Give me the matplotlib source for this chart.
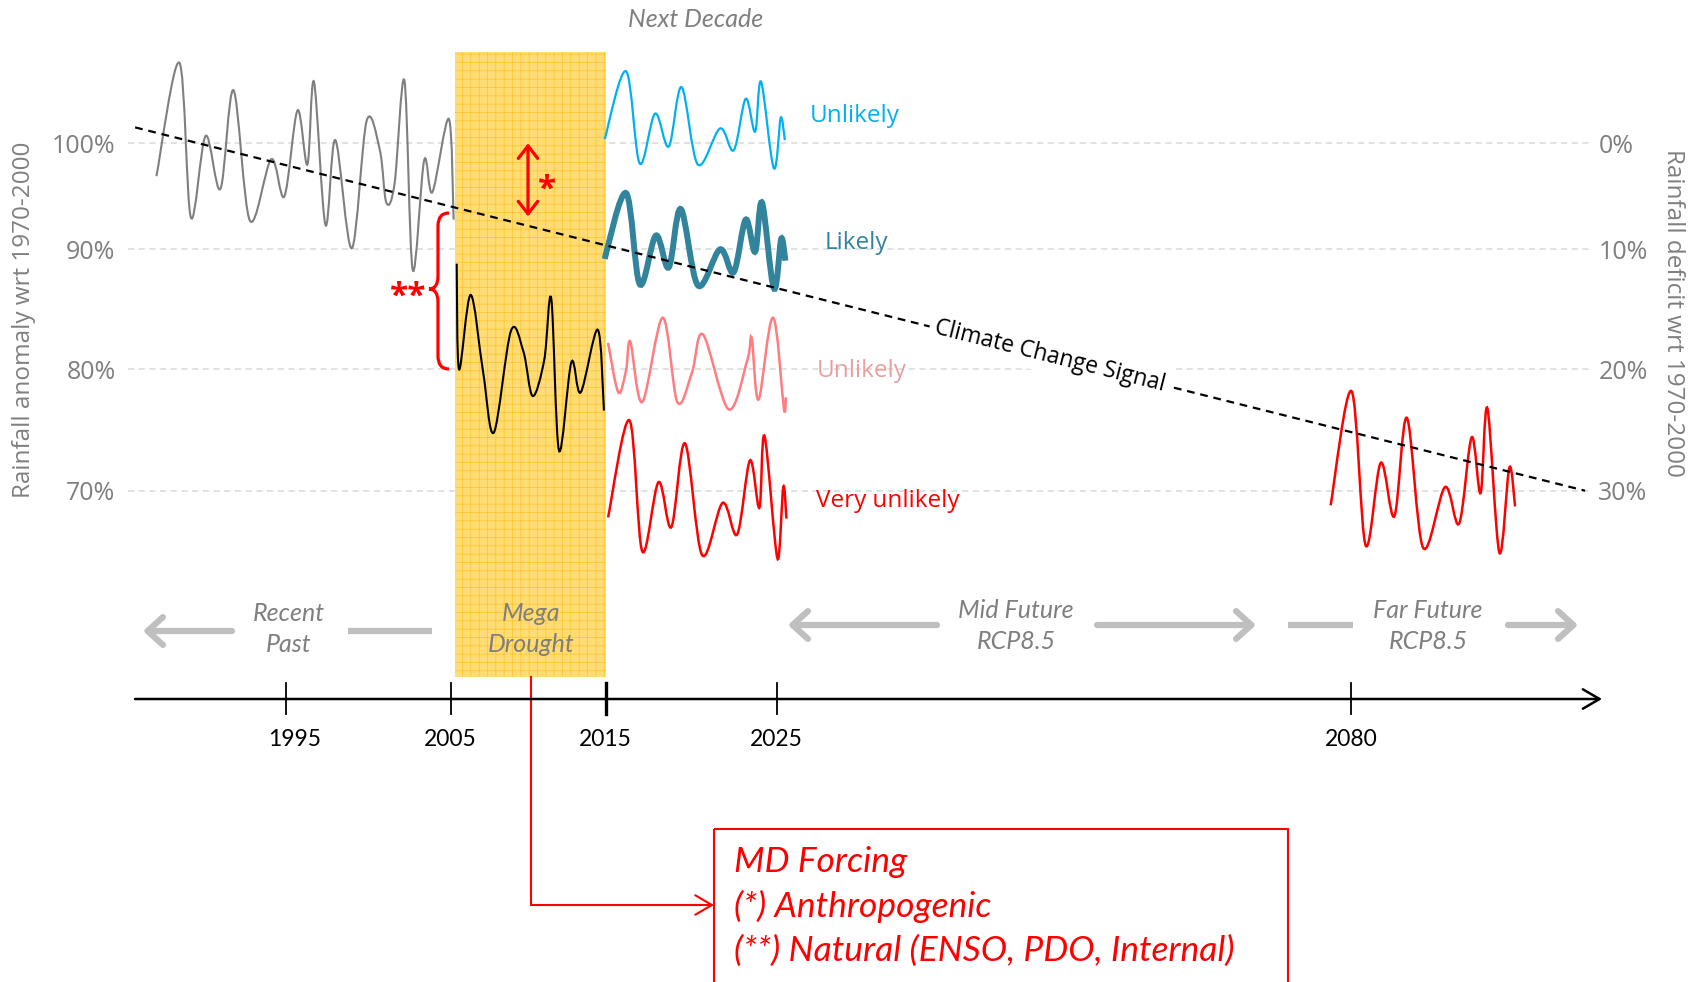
import numpy as np
import matplotlib
matplotlib.use('Agg')
import matplotlib.pyplot as plt
import matplotlib.transforms as mtransforms
from matplotlib.path import Path
from matplotlib.patches import PathPatch, Rectangle

# %% Data (read off the schematic)
# recent past, grey
past_years = [1987.1, 1988.5, 1989.2, 1990.1, 1991.0, 1991.8, 1992.8, 1994.1, 1994.9, 1995.7,
              1996.3, 1996.7, 1997.4, 1998.0, 1999.0, 1999.9, 2000.7, 2001.1, 2001.6, 2002.2,
              2002.7, 2003.4, 2003.9, 2004.9, 2005.2]
past_vals = [96.9, 107.6, 93.0, 100.7, 95.7, 105.0, 92.7, 98.5, 95.0, 103.1,
             98.0, 105.8, 92.3, 100.3, 90.1, 102.1, 99.4, 94.4, 96.2, 105.9,
             88.3, 98.4, 95.4, 102.3, 92.8]

# mega drought, black
drought_years = [2005.4, 2005.55, 2006.3, 2007.1, 2007.8, 2008.9, 2009.7, 2010.3, 2011.05, 2011.5,
                 2012.0, 2012.8, 2013.4, 2014.5, 2014.9]
drought_vals = [88.8, 80.0, 86.2, 79.8, 74.8, 83.2, 81.5, 77.8, 80.8, 85.9,
                73.3, 80.6, 78.1, 83.3, 76.6]

# next decade scenarios
wet_years = [2014.95, 2016.2, 2017.0, 2017.9, 2018.7, 2019.45, 2020.4, 2021.7, 2022.5, 2023.2,
             2023.75, 2024.1, 2024.85, 2025.4, 2025.8]
wet_vals = [100.4, 106.8, 98.1, 102.8, 99.7, 105.3, 98.0, 101.4, 99.35, 104.2,
            101.1, 105.8, 97.65, 102.4, 100.3]

likely_years = [2014.95, 2016.2, 2017.0, 2017.95, 2018.7, 2019.4, 2020.4, 2021.7, 2022.5, 2023.2,
                2023.75, 2024.15, 2024.85, 2025.45, 2025.85]
likely_vals = [89.2, 95.3, 87.1, 91.3, 88.5, 93.8, 87.0, 90.0, 88.1, 92.8,
               89.8, 94.4, 86.75, 91.0, 89.05]

dry_years = [2015.15, 2015.75, 2016.2, 2016.45, 2017.15, 2018.35, 2019.2, 2020.05, 2020.7, 2022.2,
             2023.3, 2023.55, 2023.95, 2024.8, 2025.7, 2025.9]
dry_vals = [82.2, 78.1, 79.9, 82.3, 77.3, 84.3, 77.3, 79.7, 82.9, 76.7,
            80.8, 82.6, 77.5, 84.3, 76.8, 77.7]

vdry_years = [2015.15, 2016.4, 2017.15, 2018.1, 2018.85, 2019.65, 2020.65, 2021.85, 2022.7, 2023.45,
              2024.0, 2024.3, 2025.1, 2025.65, 2025.95]
vdry_vals = [67.8, 75.8, 65.0, 70.7, 67.0, 73.9, 64.7, 69.0, 66.4, 72.5,
             68.6, 74.5, 64.4, 70.3, 67.7]

# far future RCP8.5
far_years = [2078.05, 2080.05, 2081.4, 2082.85, 2084.15, 2085.35, 2086.9, 2089.0, 2090.35, 2091.55,
             2092.4, 2093.05, 2094.2, 2095.15, 2095.7]
far_vals = [68.8, 78.2, 65.5, 72.3, 67.9, 76.0, 65.3, 70.3, 67.3, 74.4,
            69.8, 76.8, 64.9, 71.9, 68.7]

# climate change signal
trend_years = [1985.8, 2102.4]
trend_vals = [101.5, 70.0]

drought_span = [2005.3, 2015.0]
year_ticks = [1995, 2005, 2015, 2025, 2080]
ytick_vals = [70, 80, 90, 100]
left_labels = ['70%', '80%', '90%', '100%']
right_labels = ['30%', '20%', '10%', '0%']

# %% Scales (the time axis of the sketch is not linear)
W, H = 1693, 982
X_KNOTS = np.array([1960, 1995, 2005, 2015, 2025, 2080, 2140])
X_PX = np.array([-288, 286, 450.5, 605.5, 776.5, 1351, 1978])
Y_KNOTS = np.array([115, 100, 90, 80, 70, 50])
Y_PX = np.array([-15.7, 143.3, 249.3, 369.3, 490.7, 733.5])


def x_fwd(v):
    return np.interp(v, X_KNOTS, X_PX)


def x_inv(p):
    return np.interp(p, X_PX, X_KNOTS)


def y_fwd(v):
    return -np.interp(v, Y_KNOTS[::-1], Y_PX[::-1])


def y_inv(t):
    return np.interp(-np.asarray(t), Y_PX, Y_KNOTS)


def smooth_path(xs, ys):
    # smoothed line through the points (like a spreadsheet "smooth line")
    pts = np.column_stack([xs, ys]).astype(float)
    p = np.vstack([pts[0], pts, pts[-1]])
    verts = [pts[0]]
    codes = [Path.MOVETO]
    for i in range(1, len(p) - 2):
        c1 = p[i] + (p[i + 1] - p[i - 1]) / 6
        c2 = p[i + 1] - (p[i + 2] - p[i]) / 6
        verts += [c1, c2, p[i + 1]]
        codes += [Path.CURVE4] * 3
    return Path(verts, codes)


GREY_TXT = '#7F7F7F'
SANS = ['Open Sans', 'DejaVu Sans']
NARROW = ['Lato', 'DejaVu Sans']
plt.rcParams['font.family'] = SANS
plt.rcParams['hatch.linewidth'] = 0.55

fig = plt.figure(figsize=(W / 100, H / 100), dpi=100)
fig.patch.set_facecolor('white')

L, R, T, B = 128, 1590, 52, 677
ax = fig.add_axes([L / W, 1 - B / H, (R - L) / W, (B - T) / H])
ax.set_xscale('function', functions=(x_fwd, x_inv))
ax.set_yscale('function', functions=(y_fwd, y_inv))

# drought shading
ax.axvspan(drought_span[0], drought_span[1], facecolor='#FFDC75', edgecolor='#FFC52E',
           hatch='++', lw=0, zorder=1)

# curves
ax.add_patch(PathPatch(smooth_path(past_years, past_vals), fill=False, ec='#7F7F7F', lw=1.5, zorder=3))
ax.add_patch(PathPatch(smooth_path(drought_years, drought_vals), fill=False, ec='black', lw=1.5, zorder=3))
ax.add_patch(PathPatch(smooth_path(wet_years, wet_vals), fill=False, ec='#00B0F0', lw=1.6, zorder=3))
ax.add_patch(PathPatch(smooth_path(likely_years, likely_vals), fill=False, ec='#31849B', lw=4.3,
                       capstyle='butt', zorder=3))
ax.add_patch(PathPatch(smooth_path(dry_years, dry_vals), fill=False, ec='#FF7C80', lw=1.8, zorder=3))
ax.add_patch(PathPatch(smooth_path(vdry_years, vdry_vals), fill=False, ec='#FF0000', lw=1.8, zorder=3))
ax.add_patch(PathPatch(smooth_path(far_years, far_vals), fill=False, ec='#FF0000', lw=1.8, zorder=3))

# climate change signal
ax.plot(trend_years, trend_vals, color='black', ls=(0, (3.5, 2.6)), lw=1.6, zorder=4)

# anthropogenic part (*)
ax.annotate('', xy=(2010.0, 100.0), xytext=(2010.0, 93.1),
            arrowprops=dict(arrowstyle='<->,head_length=0.45,head_width=0.35', color='#FF0000',
                            lw=2.3, shrinkA=0, shrinkB=0, mutation_scale=20), zorder=5)
ax.text(2011.2, 95.6, '*', color='#FF0000', fontsize=24, fontweight='bold', ha='center', va='center',
        zorder=5)

ax.set_xlim(x_inv(L), x_inv(R))
ax.set_ylim(y_inv(-B), y_inv(-T))
ax.set_yticks(ytick_vals)
ax.set_yticklabels(left_labels)
ax.set_xticks([])
ax.grid(axis='y', color='#D9D9D9', ls=(0, (4, 3)), lw=1.1)
ax.set_axisbelow(True)
ax.tick_params(axis='y', length=0, pad=9, labelsize=18, labelcolor=GREY_TXT)
for s in ax.spines.values():
    s.set_visible(False)
ax.patch.set_alpha(0)

ax2 = ax.twinx()
ax2.set_yscale('function', functions=(y_fwd, y_inv))
ax2.set_ylim(ax.get_ylim())
ax2.set_yticks(ytick_vals)
ax2.set_yticklabels(right_labels)
ax2.tick_params(axis='y', length=0, pad=6, labelsize=18, labelcolor=GREY_TXT)
for s in ax2.spines.values():
    s.set_visible(False)

# %% Overlay in pixel units for the annotations
ov = fig.add_axes([0, 0, 1, 1])
ov.set_autoscale_on(False)
ov.set_xlim(0, W)
ov.set_ylim(H, 0)
ov.axis('off')
ov.patch.set_alpha(0)

ov.text(24, 320, 'Rainfall anomaly wrt 1970-2000', rotation=90, ha='center', va='center',
        fontsize=17.5, color=GREY_TXT)
ov.text(1673, 313, 'Rainfall deficit wrt 1970-2000', rotation=270, ha='center', va='center',
        fontsize=17.5, color=GREY_TXT)

ov.text(810, 116, 'Unlikely', color='#00B0F0', fontsize=17.5, va='center')
ov.text(825, 243, 'Likely', color='#31849B', fontsize=17.5, va='center')
ov.text(817, 371, 'Unlikely', color='#E5A0A0', fontsize=17.5, va='center')
ov.text(816, 501, 'Very unlikely', color='#FF0000', fontsize=17.5, va='center')

ov.text(1050, 356, 'Climate Change Signal', rotation=-14.1, rotation_mode='anchor',
        ha='center', va='center', fontsize=16.5, color='black',
        bbox=dict(facecolor='white', edgecolor='none', pad=4))

ov.text(696, 19, 'Next Decade', fontsize=18, style='italic', color=GREY_TXT, family=NARROW,
        ha='center', va='center')

# natural part (**): brace
brace = Path([(449, 213), (438, 213), (438, 226), (438, 276), (438, 289), (429, 289),
              (438, 289), (438, 302), (438, 356), (438, 369), (449, 369)],
             [Path.MOVETO, Path.CURVE3, Path.CURVE3, Path.LINETO, Path.CURVE3, Path.CURVE3,
              Path.CURVE3, Path.CURVE3, Path.LINETO, Path.CURVE3, Path.CURVE3])
ov.add_patch(PathPatch(brace, fill=False, ec='#FF0000', lw=2.3))
ov.text(408, 297, '**', color='#FF0000', fontsize=24, fontweight='bold', ha='center', va='center')

# period arrows
arr_kw = dict(arrowstyle='->,head_length=0.55,head_width=0.5', color='#BFBFBF', lw=4.5,
              shrinkA=0, shrinkB=0, mutation_scale=20)
ov.annotate('', xy=(143, 631), xytext=(232, 631), arrowprops=arr_kw)
ov.plot([348, 432], [631, 631], color='#BFBFBF', lw=4.5, solid_capstyle='butt')
ov.annotate('', xy=(788, 625), xytext=(937, 625), arrowprops=arr_kw)
ov.annotate('', xy=(1256, 625), xytext=(1097, 625), arrowprops=arr_kw)
ov.plot([1288, 1353], [625, 625], color='#BFBFBF', lw=4.5, solid_capstyle='butt')
ov.annotate('', xy=(1578, 625), xytext=(1508, 625), arrowprops=arr_kw)

per_kw = dict(fontsize=18, style='italic', color=GREY_TXT, family=NARROW, ha='center',
              va='center', linespacing=1.4)
ov.text(289, 629, 'Recent\nPast', **per_kw)
ov.text(531, 629, 'Mega\nDrought', **per_kw)
ov.text(1016, 626, 'Mid Future\nRCP8.5', **per_kw)
ov.text(1428, 626, 'Far Future\nRCP8.5', **per_kw)

# time line
ov.annotate('', xy=(1602, 699), xytext=(135, 699),
            arrowprops=dict(arrowstyle='->,head_length=0.6,head_width=0.35', color='black', lw=1.8,
                            shrinkA=0, shrinkB=0, mutation_scale=20))
trans = mtransforms.blended_transform_factory(ax.transData, ov.transData)
for yr in year_ticks:
    ov.plot([yr, yr], [683, 714], transform=trans, color='black', lw=2.4 if yr == 2015 else 1.3,
            clip_on=False)
    ov.text(yr + (0.55 if yr == 1995 else 0), 740, str(yr), transform=trans, ha='center',
            va='center', fontsize=16.5, family=NARROW, color='black')

# MD forcing callout
ov.plot([531, 531, 700], [677, 905, 905], color='#FF0000', lw=1.5, solid_joinstyle='miter')
ov.annotate('', xy=(714, 905), xytext=(690, 905),
            arrowprops=dict(arrowstyle='->,head_length=0.6,head_width=0.35', color='#FF0000', lw=1.5,
                            shrinkA=0, shrinkB=0, mutation_scale=20))
ov.add_patch(Rectangle((714, 829), 574, 200, fill=False, ec='#FF0000', lw=1.5))
box_kw = dict(fontsize=25.5, style='italic', color='#FF0000', family=NARROW, va='center')
ov.text(734, 862, 'MD Forcing', **box_kw)
ov.text(734, 906, '(*) Anthropogenic', **box_kw)
ov.text(734, 951, '(**) Natural (ENSO, PDO, Internal)', **box_kw)

fig.savefig('out.png', dpi=100, facecolor='white')
